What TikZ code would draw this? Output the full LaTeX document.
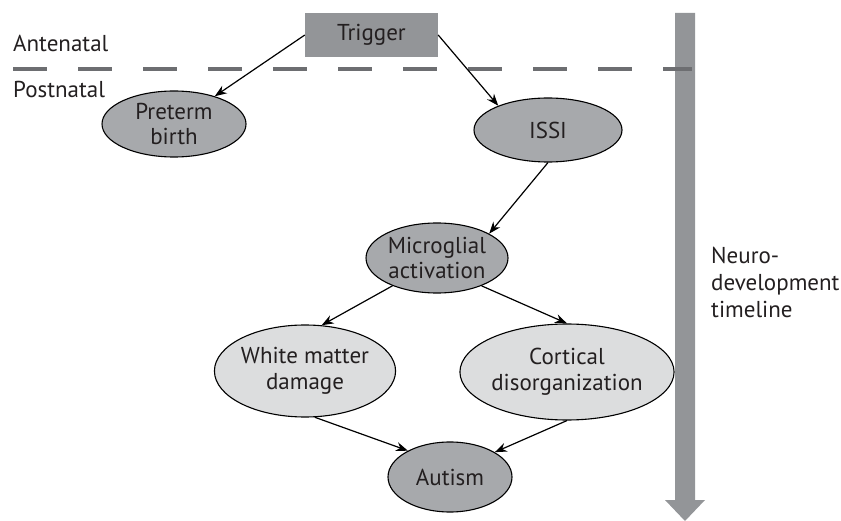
\documentclass[tikz,border=0pt]{standalone}
\usepackage{fontspec}
\setmainfont{PT Sans}
\usetikzlibrary{shapes.geometric,arrows.meta}
\definecolor{txt}{HTML}{231F20}
\definecolor{darkfill}{HTML}{A7A9AC}
\definecolor{trigfill}{HTML}{939598}
\definecolor{lightfill}{HTML}{DCDDDE}
\definecolor{dashcol}{HTML}{6D6E71}
\definecolor{bigarrow}{HTML}{939598}
\tikzset{
  lbl/.style={font=\fontsize{23}{25.5}\selectfont, text=txt},
  darkell/.style={ellipse, draw=black, line width=1.1pt, fill=darkfill, inner sep=0pt, align=center, lbl},
  lightell/.style={ellipse, draw=black, line width=1.1pt, fill=lightfill, inner sep=0pt, align=center, lbl},
  conn/.style={draw=black, line width=1.2pt, -{Stealth[length=12pt,width=9pt]}},
}
\begin{document}
\begin{tikzpicture}[x=1pt,y=-1pt]
\useasboundingbox (0,0) rectangle (841,521);
% big timeline arrow
\fill[bigarrow] (675,13) -- (695,13) -- (695,500) -- (705,500) -- (685,521) -- (665,500) -- (675,500) -- cycle;
% dashed divider
\draw[dashcol, line width=3.5pt, dash pattern=on 34pt off 31pt] (13,69) -- (692,69);
% labels
\node[lbl, anchor=base west, inner sep=0pt] (ante) at (13,52) {Antenatal};
\node[lbl, anchor=base west, inner sep=0pt] (post) at (13,98) {Postnatal};
\node[font=\fontsize{23}{27}\selectfont, text=txt, anchor=north west, align=left, inner sep=0pt] (neuro) at (711,247) {Neuro-\\development\\timeline};
% nodes
\node[rectangle, fill=trigfill, minimum width=133pt, minimum height=44pt, inner sep=0pt, lbl] (trigger) at (371.5,35) {Trigger};
\node[darkell, minimum width=144pt, minimum height=66pt] (preterm) at (174,124) {Preterm\\birth};
\node[darkell, minimum width=148pt, minimum height=64pt] (issi) at (548,130) {ISSI};
\node[darkell, minimum width=142pt, minimum height=70pt] (micro) at (437,258) {Microglial\\activation};
\node[lightell, minimum width=164pt, minimum height=92pt] (white) at (305,371) {White matter\\damage};
\node[lightell, minimum width=182pt, minimum height=96pt] (cort) at (567,372) {Cortical\\disorganization};
\node[darkell, minimum width=124pt, minimum height=70pt] (autism) at (450,477) {Autism};
% connectors
\draw[conn] (trigger.west) -- (preterm);
\draw[conn] (trigger.east) -- (issi.154);
\draw[conn] (issi.south) -- (micro.25);
\draw[conn] (micro.212) -- (white.70);
\draw[conn] (micro.328) -- (cort.north);
\draw[conn] (white.282) -- (autism.148);
\draw[conn] (cort.south) -- (autism.29);
\end{tikzpicture}
\end{document}
